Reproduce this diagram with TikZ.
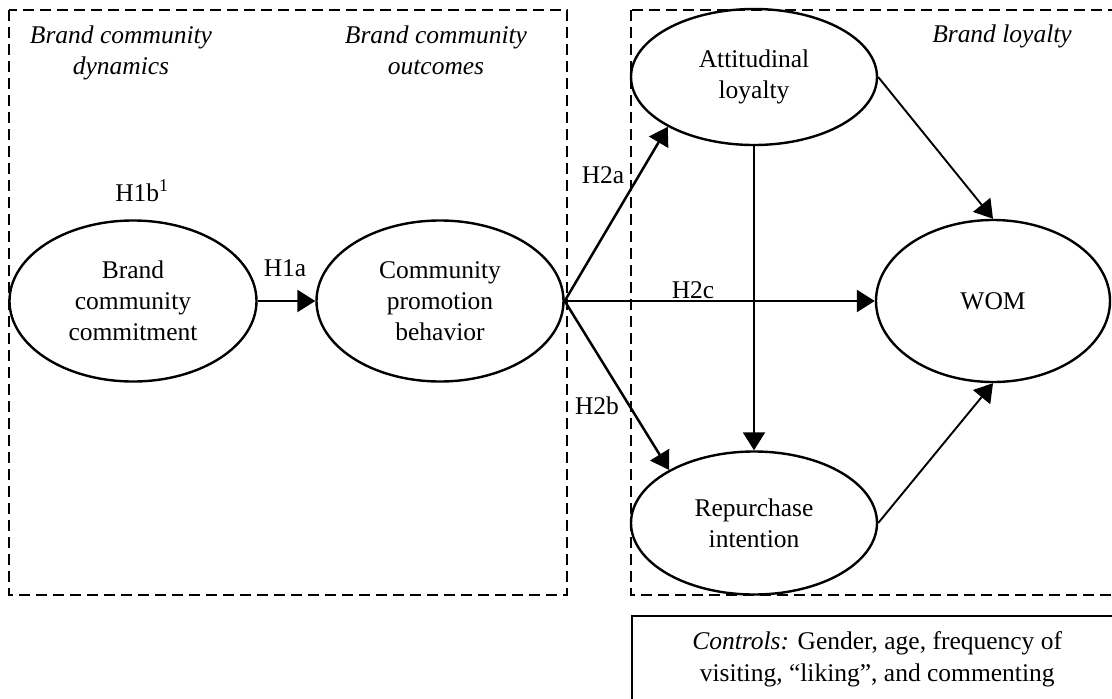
\documentclass[tikz,border=0pt]{standalone}
\usepackage{fontspec}
\setmainfont{Liberation Serif}
\usetikzlibrary{shapes.geometric,arrows.meta}
\begin{document}
\begin{tikzpicture}[x=1pt,y=-1pt,
  lbl/.style={font=\fontsize{25.5}{31}\selectfont, inner sep=0pt, outer sep=0pt},
  construct/.style={ellipse, draw, line width=2.4pt, inner sep=0pt, align=center,
    font=\fontsize{25.5}{31}\selectfont},
  region/.style={draw, line width=2.4pt, dash pattern=on 11pt off 6pt},
  hyp/.style={line width=2.5pt, -{Triangle[length=18pt,width=22pt]}},
  lightarrow/.style={line width=1.9pt, -{Triangle[length=18pt,width=22pt]}}]
\useasboundingbox (0,0) rectangle (1112,699);
\clip (0,0) rectangle (1112,699);
% regions
\draw[region] (9,10) rectangle (567,595);
\draw[region] (631,10) rectangle (1140,595);
% region titles
\node[lbl, anchor=north, align=center] (tdyn) at (121,25.6) {\itshape Brand community\\\itshape dynamics};
\node[lbl, anchor=north, align=center] (tout) at (436,25.6) {\itshape Brand community\\\itshape outcomes};
\node[lbl, anchor=base] (tloy) at (1002,42) {\itshape Brand loyalty};
% constructs
\node[construct, minimum width=247pt, minimum height=161pt] (bcc) at (133,301) {Brand\\community\\commitment};
\node[construct, minimum width=247pt, minimum height=161pt] (cpb) at (440,301) {Community\\promotion\\behavior};
\node[construct, minimum width=246pt, minimum height=136pt] (att) at (754,77) {Attitudinal\\loyalty};
\node[construct, minimum width=246pt, minimum height=143pt] (rep) at (754,523) {Repurchase\\intention};
\node[construct, minimum width=234pt, minimum height=162pt] (wom) at (993,301) {WOM};
% hypothesis labels
\node[lbl, anchor=base] (h1b) at (142,201) {H1b\textsuperscript{1}};
\node[lbl, anchor=base] (h1a) at (285,276) {H1a};
\node[lbl, anchor=base] (h2a) at (603,183) {H2a};
\node[lbl, anchor=base] (h2c) at (693,298) {H2c};
\node[lbl, anchor=base] (h2b) at (597,414) {H2b};
% connectors
\draw[hyp] (bcc.east) -- (cpb.west);
\draw[hyp] (cpb.east) -- (att.210);
\draw[hyp] (cpb.east) -- (wom.west);
\draw[hyp] (cpb.east) -- (rep.148);
\draw[hyp, line width=2.2pt] (att.south) -- (rep.north);
\draw[lightarrow] (att.east) -- (wom.north);
\draw[lightarrow] (rep.east) -- (wom.south);
% controls
\node[draw, line width=2.4pt, anchor=north west, inner sep=0pt, minimum width=490pt,
  minimum height=86pt, align=center, font=\fontsize{25.5}{32}\selectfont] (ctrl) at (631,615)
  {\textit{Controls:} Gender, age, frequency of\\visiting, “liking”, and commenting};
\end{tikzpicture}
\end{document}
